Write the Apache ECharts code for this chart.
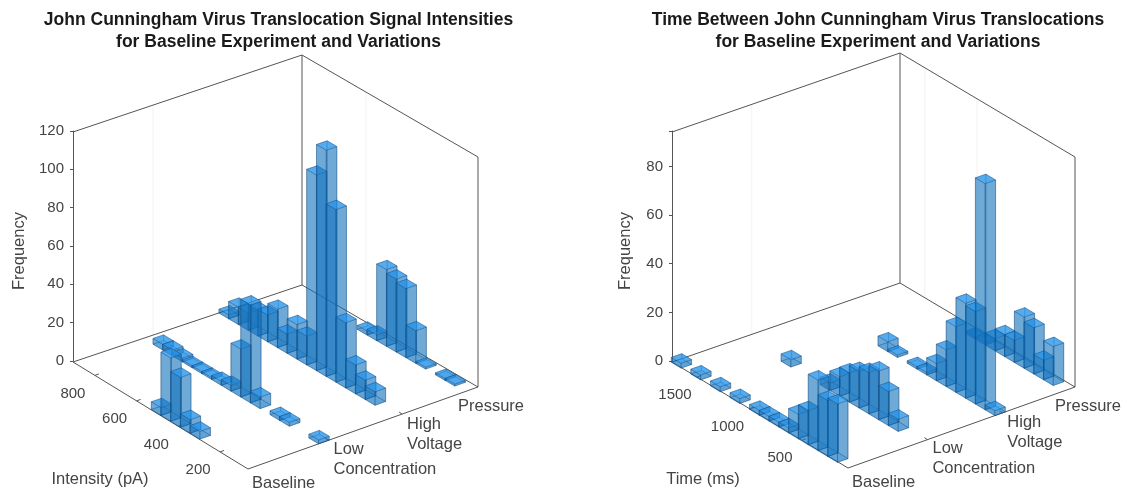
<!DOCTYPE html>
<html><head><meta charset="utf-8">
<style>html,body{margin:0;padding:0;background:#fff}#c{width:1128px;height:494px}</style>
<script src="https://cdn.jsdelivr.net/npm/echarts@6/dist/echarts.min.js"></script>
</head><body><div id="c"></div>
<script>
// ---- data ----
const categories = ['Baseline', 'Low\nConcentration', 'High\nVoltage', 'Pressure'];
const frequencyTicksLeft = [0, 20, 40, 60, 80, 100, 120];
const frequencyTicksRight = [0, 20, 40, 60, 80];
const intensityTicks = [200, 400, 600, 800];
const timeTicks = [500, 1000, 1500];
const intensityBinStarts = [66,113,159,206,252,299,346,392,439,485,532,579,625,672,718,765,812,858];
const timeBinStarts = [62,155,248,341,434,528,621,714,807,900,993,1086,1179,1272,1366,1459,1552,1645];

const intensityBaseline = [0,0,0,0,0,4,7,26,33,4,0,0,0,0,0,0,0,0];
const intensityLow      = [2,0,0,2,2,0,6,51,25,3,2,1,1,1,2,3,3,0];
const intensityHigh     = [0,0,7,10,15,34,90,118,102,15,18,10,20,14,13,9,9,2];
const intensityPressure = [0,1,1,0,1,17,36,38,40,3,2,0,0,0,0,0,0,0];

const timeBaseline = [0,24,23,29,14,10,2,2,2,2,0,2,0,2,0,2,0,2];
const timeLow      = [0,0,5,14,20,17,15,12,8,3,0,0,0,3,0,0,0,0];
const timeHigh     = [2,93,38,39,27,15,7,1,1,0,1,4,0,0,0,0,0,0];
const timePressure = [0,16,8,19,21,9,9,5,1,1,0,0,0,0,0,0,0,0];

const intensityWallLines = [600];
const timeWallLines = [1000, 1500];

// ---- layout ----
const panels = [{
  title: 'John Cunningham Virus Translocation Signal Intensities\nfor Baseline Experiment and Variations',
  titleX: 273.5, name: 'Intensity (pA)', nameAt: [100, 479],
  F: [248, 469], L: [73, 362], R: [478, 387], B: [302, 285],
  zTop: 131, zPx: 230, zMax: 120, binW: 46.6, range: [66, 905],
  catV: [0.025, 0.33, 0.66, 0.965], tickV: [0, 0.35, 0.67, 1],
  ticks: intensityTicks, wall: intensityWallLines, bins: intensityBinStarts,
  rows: [intensityBaseline, intensityLow, intensityHigh, intensityPressure],
  freqTicks: frequencyTicksLeft, nameGap: 45
}, {
  title: 'Time Between John Cunningham Virus Translocations\nfor Baseline Experiment and Variations',
  titleX: 873, name: 'Time (ms)', nameAt: [703, 479],
  F: [848, 468], L: [672, 362], R: [1075, 387], B: [900, 283],
  zTop: 131, zPx: 230, zMax: 94.6, binW: 93.1, range: [62, 1738],
  catV: [0.02, 0.33, 0.67, 0.97], tickV: [0, 0.35, 0.68, 1],
  ticks: timeTicks, wall: timeWallLines, bins: timeBinStarts,
  rows: [timeBaseline, timeLow, timeHigh, timePressure],
  freqTicks: frequencyTicksRight, nameGap: 38
}];
const FONT = '16.5px "Liberation Sans", Arial, sans-serif';
const TICKFONT = '15px "Liberation Sans", Arial, sans-serif';
const TXT = '#444';
const LINE = '#555';
const barV = 0.046;
const tickLabelOffset = [-22, 18];
const catLabelOffset = [[4, 14], [5, 9], [5, 10], [-20, 19]];

function makeProjector(p, api) {
  const left = p.L[0];
  const pxPerUnit = p.zPx / p.zMax;
  const zero = p.zTop + p.zPx;
  // floor position (u,v in 0..1) + height in frequency units -> canvas, through the grid's axes
  return function (u, v, z) {
    const x = (1-u)*(1-v)*p.F[0] + u*(1-v)*p.L[0] + (1-u)*v*p.R[0] + u*v*p.B[0];
    const y = (1-u)*(1-v)*p.F[1] + u*(1-v)*p.L[1] + (1-u)*v*p.R[1] + u*v*p.B[1];
    return api.coord([x - left, (zero - y) / pxPerUnit + (z || 0)]);
  };
}
const toU = (p, val) => (val - p.range[0]) / (p.range[1] - p.range[0]);

function barItem(p) {
  return function (params, api) {
    const P = makeProjector(p, api);
    const start = api.value(0), c = api.value(1), h = api.value(2);
    const u0 = toU(p, start), u1 = toU(p, start + p.binW);
    const v0 = p.catV[c] - barV/2, v1 = p.catV[c] + barV/2;
    const a = P(u0,v0,0), b = P(u1,v0,0), d = P(u0,v1,0), e = P(u1,v1,0);
    const A = P(u0,v0,h), Bb = P(u1,v0,h), D = P(u0,v1,h), E = P(u1,v1,h);
    const stroke = 'rgba(15,70,125,0.45)';
    const poly = (pts, fill) => ({type:'polygon', shape:{points:pts},
      style:{fill, stroke, lineWidth:0.7}});
    return {type:'group', children:[
      poly([a,b,e,d], 'rgba(30,130,210,0.35)'),
      poly([b,e,E,Bb], 'rgba(20,115,190,0.22)'),
      poly([d,e,E,D], 'rgba(20,115,190,0.22)'),
      poly([a,b,Bb,A], 'rgba(20,115,190,0.5)'),
      poly([a,d,D,A], 'rgba(20,115,190,0.5)'),
      poly([A,Bb,E,D], 'rgba(40,150,235,0.72)')
    ]};
  };
}

function frameItem(p) {
  return function (params, api) {
    const P = makeProjector(p, api);
    const kids = [];
    const seg = (a, b, color, w) => kids.push({type:'line',
      shape:{x1:a[0],y1:a[1],x2:b[0],y2:b[1]}, style:{stroke:color, lineWidth:w}});
    const Z = p.zMax;
    // faint grid lines on the two back walls
    seg(P(1,p.tickV[1],0), P(1,p.tickV[1],Z), '#f1f1f1', 1);
    p.wall.forEach(t => seg(P(toU(p,t),1,0), P(toU(p,t),1,Z), '#f1f1f1', 1));
    seg(P(0,0,0), P(1,0,0), LINE, 1);
    seg(P(0,0,0), P(0,1,0), LINE, 1);
    seg(P(1,0,0), P(1,1,0), LINE, 1);
    seg(P(1,1,0), P(0,1,0), LINE, 1);
    seg(P(1,1,0), P(1,1,Z), LINE, 1);
    seg(P(0,1,0), P(0,1,Z), LINE, 1);
    seg(P(1,0,Z), P(1,1,Z), LINE, 1);
    seg(P(1,1,Z), P(0,1,Z), LINE, 1);
    // floor ticks and their labels
    p.ticks.forEach(t => {
      const a = P(toU(p,t),0,0);
      seg(a, [a[0]+4, a[1]-1.5], LINE, 1);
      kids.push({type:'text', style:{text:String(t), x:a[0]+tickLabelOffset[0], y:a[1]+tickLabelOffset[1],
        font:TICKFONT, fill:TXT, align:'center', verticalAlign:'middle'}});
    });
    categories.forEach((name, i) => {
      const a = P(0,p.tickV[i],0);
      if (i > 0 && i < 3) seg(a, [a[0]-3, a[1]-2], LINE, 1);
      name.split('\n').forEach((ln, j) => kids.push({type:'text', style:{text:ln,
        x:a[0] + catLabelOffset[i][0], y:a[1] + catLabelOffset[i][1] + j*20, font:FONT, fill:TXT,
        align:'left', verticalAlign:'middle'}}));
    });
    kids.push({type:'text', style:{text:p.name, x:p.nameAt[0], y:p.nameAt[1], font:FONT,
      fill:TXT, align:'center', verticalAlign:'middle'}});
    return {type:'group', children:kids};
  };
}

const grids = [], xAxes = [], yAxes = [], series = [], titles = [];
panels.forEach((p, i) => {
  const width = p.R[0] - p.L[0];
  grids.push({left:p.L[0], top:p.zTop, width, height:p.zPx, containLabel:false});
  xAxes.push({type:'value', gridIndex:i, min:0, max:width, show:false});
  yAxes.push({type:'value', gridIndex:i, min:0, max:p.zMax, interval:20,
    name:'Frequency', nameLocation:'middle', nameRotate:90, nameGap:p.nameGap,
    nameTextStyle:{fontSize:16.5, color:TXT, fontFamily:'Liberation Sans', padding:[0,10,0,0]},
    axisLine:{show:true, onZero:false, lineStyle:{color:LINE, width:1}},
    axisTick:{show:true, inside:false, length:3, lineStyle:{color:LINE}},
    splitLine:{show:false},
    axisLabel:{fontSize:15, color:TXT, fontFamily:'Liberation Sans', margin:9,
      formatter:v => p.freqTicks.includes(v) ? String(v) : ''}
  });
  titles.push({text:p.title, left:p.titleX, top:4, textAlign:'center',
    textStyle:{fontFamily:'Liberation Sans', fontWeight:'bold', fontSize:17.5,
      lineHeight:22, color:'#1a1a1a'}});
  series.push({type:'custom', xAxisIndex:i, yAxisIndex:i, silent:true, clip:false, z:1,
    renderItem:frameItem(p), data:[[0,0]], animation:false});
  const items = [];
  p.rows.forEach((row, c) => row.forEach((h, k) => {
    if (h > 0) items.push({k, c, value:[p.bins[k], c, h]});
  }));
  // painter's order: far corner first
  items.sort((a,b) => (b.c*5 + b.k*0.6) - (a.c*5 + a.k*0.6));
  series.push({type:'custom', xAxisIndex:i, yAxisIndex:i, silent:true, clip:false, z:2,
    renderItem:barItem(p), data:items.map(d => d.value), animation:false});
});

const chart = echarts.init(document.getElementById('c'), null, {renderer:'canvas'});
chart.setOption({backgroundColor:'#fff', animation:false, title:titles,
  grid:grids, xAxis:xAxes, yAxis:yAxes, series});
</script></body></html>
